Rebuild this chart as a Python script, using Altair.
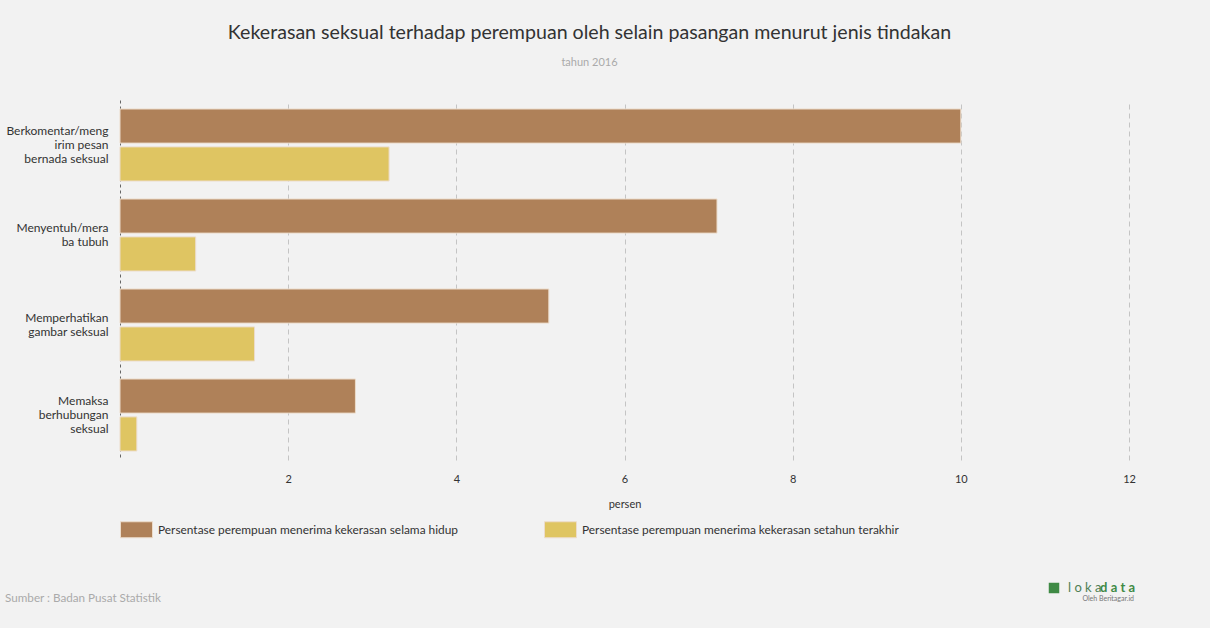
import json
import altair as alt
import pandas as pd

categories = [
    "Berkomentar/mengirim pesan bernada seksual",
    "Menyentuh/meraba tubuh",
    "Memperhatikan gambar seksual",
    "Memaksa berhubungan seksual",
]
label_lines = [
    ["Berkomentar/meng", "irim pesan", "bernada seksual"],
    ["Menyentuh/mera", "ba tubuh"],
    ["Memperhatikan", "gambar seksual"],
    ["Memaksa", "berhubungan", "seksual"],
]
series = [
    "Persentase perempuan menerima kekerasan selama hidup",
    "Persentase perempuan menerima kekerasan setahun terakhir",
]
lifetime = [10.0, 7.1, 5.1, 2.8]
last_year = [3.2, 0.9, 1.6, 0.2]
colors = ["#AF8159", "#DFC562"]
x_ticks = [2, 4, 6, 8, 10, 12]

title_text = "Kekerasan seksual terhadap perempuan oleh selain pasangan menurut jenis tindakan"
subtitle_text = "tahun 2016"
source_text = "Sumber : Badan Pusat Statistik"

rows = []
for c, a, b in zip(categories, lifetime, last_year):
    rows.append({"category": c, "series": series[0], "value": a})
    rows.append({"category": c, "series": series[1], "value": b})
df = pd.DataFrame(rows)

expr = "datum.value"
for c, lines in reversed(list(zip(categories, label_lines))):
    expr = f"datum.value == {json.dumps(c)} ? {json.dumps(lines)} : ({expr})"

three_line = [c for c, l in zip(categories, label_lines) if len(l) == 3]
offset_test = f"indexof({json.dumps(three_line)}, datum.value) >= 0"

FONT = "Lato"
LH = 14

bars = alt.Chart(df).mark_bar(stroke="#ecdccb", strokeWidth=1).encode(
    y=alt.Y(
        "category:N",
        sort=categories,
        scale=alt.Scale(paddingInner=0.2, paddingOuter=0.1),
        axis=alt.Axis(
            title=None,
            domain=True,
            domainDash=[3, 3],
            domainColor="#666666",
            ticks=False,
            grid=False,
            labelPadding=12,
            labelFontSize=12,
            labelColor="#333333",
            labelLineHeight=LH,
            labelLimit=200,
            labelFont=FONT,
            labelExpr=expr,
            labelOffset={"condition": {"test": offset_test, "value": -LH}, "value": -LH / 2},
        ),
    ),
    yOffset=alt.YOffset("series:N", sort=series, scale=alt.Scale(paddingInner=0.1)),
    x=alt.X(
        "value:Q",
        scale=alt.Scale(domain=[0, 12], nice=False),
        axis=alt.Axis(
            values=x_ticks,
            grid=True,
            gridDash=[5, 4],
            gridColor="#c4c4c4",
            domain=False,
            ticks=False,
            labelFlush=False,
            labelPadding=13,
            labelFontSize=11,
            labelColor="#333333",
            labelFont=FONT,
            title="persen",
            titlePadding=14,
            titleFontSize=11,
            titleFontWeight="normal",
            titleColor="#333333",
            titleFont=FONT,
        ),
    ),
    color=alt.Color(
        "series:N",
        scale=alt.Scale(domain=series, range=colors),
        legend=alt.Legend(
            title=None,
            orient="none",
            legendX=0,
            legendY=413,
            direction="horizontal",
            symbolType="M-1,-0.5H1V0.5H-1Z",
            symbolSize=1024,
            symbolStrokeColor="#ecdccb",
            symbolStrokeWidth=1,
            symbolOpacity=1,
            labelFontSize=11.9,
            labelColor="#333333",
            labelFont=FONT,
            labelLimit=400,
            labelOffset=5,
            columnPadding=83,
        ),
    ),
)

one = alt.Data(values=[{}])

source = alt.Chart(one).mark_text(
    text=source_text, align="left", baseline="middle", fontSize=11.7, color="#aaaaaa", font=FONT
).encode(x=alt.value(-115), y=alt.value(498))

logo_icon = alt.Chart(one).mark_point(
    shape="square", filled=True, color="#3f8a45", size=110, opacity=1
).encode(x=alt.value(934), y=alt.value(488))

logo_a = alt.Chart(one).mark_text(
    text="l o k a", align="left", baseline="middle", fontSize=13, color="#4f7f55", font=FONT
).encode(x=alt.value(948), y=alt.value(488))

logo_b = alt.Chart(one).mark_text(
    text="d a t a", align="right", baseline="middle", fontSize=13, fontWeight="bold", color="#3f8a45", font=FONT
).encode(x=alt.value(1015), y=alt.value(488))

logo_c = alt.Chart(one).mark_text(
    text="Oleh Beritagar.id", align="right", baseline="middle", fontSize=7, color="#777777", font=FONT
).encode(x=alt.value(1014), y=alt.value(499))

chart = alt.layer(bars, source, logo_icon, logo_a, logo_b, logo_c).properties(
    width=1009,
    height=360,
    padding={"left": 120, "top": 100, "right": 81, "bottom": 168},
    autosize=alt.AutoSizeParams(type="none"),
    background="#F2F2F2",
    title=alt.TitleParams(
        text=title_text,
        subtitle=subtitle_text,
        anchor="middle",
        frame="group",
        dx=-35,
        fontSize=19.6,
        fontWeight="normal",
        color="#333333",
        font=FONT,
        subtitleFontSize=11,
        subtitleColor="#aaaaaa",
        subtitleFont=FONT,
        subtitlePadding=13,
        offset=31,
    ),
).configure_view(stroke=None)

chart.save("out.html", embed_options={"renderer": "svg", "actions": False})
